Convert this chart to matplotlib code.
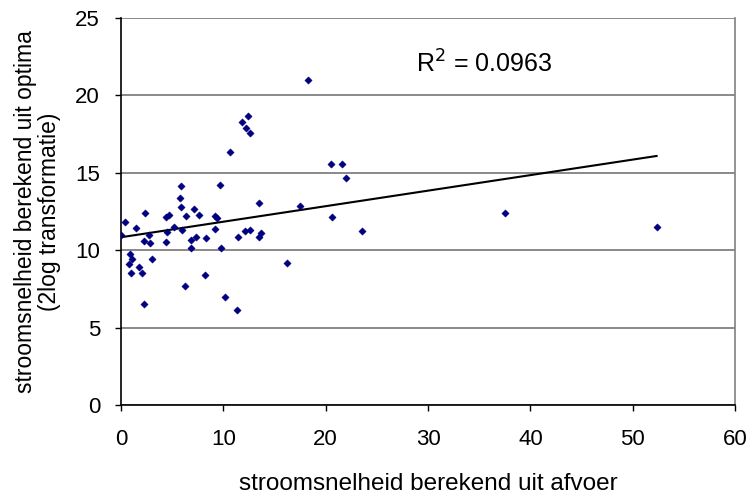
import numpy as np
import matplotlib
matplotlib.use("Agg")
import matplotlib.pyplot as plt

plt.rcParams['font.family'] = ['Liberation Sans', 'DejaVu Sans']

# stroomsnelheid berekend uit afvoer (x) vs. uit optima (y)
afvoer = [0.0, 0.39, 0.85, 0.79, 1.11, 0.95, 1.5, 1.76, 2.02, 2.38,
          2.25, 2.22, 2.77, 2.84, 3.06, 4.43, 4.66, 4.4, 4.53, 5.15,
          5.9, 5.77, 5.9, 5.97, 6.35, 6.29, 7.14, 6.81, 6.81, 7.62,
          7.36, 8.28, 8.18, 9.22, 9.38, 9.68, 9.22, 9.74, 10.17, 10.65,
          11.34, 11.4, 11.86, 12.45, 12.25, 12.64, 12.16, 12.58, 13.49, 13.49,
          13.65, 18.28, 20.56, 21.64, 21.99, 17.53, 20.66, 23.59, 16.19, 37.55,
          52.32]
optima = [11.01, 11.81, 9.76, 9.11, 9.44, 8.55, 11.42, 8.92, 8.55, 12.43,
          6.55, 10.6, 10.97, 10.45, 9.42, 12.13, 12.3, 10.56, 11.16, 11.5,
          14.16, 13.36, 12.76, 11.31, 12.2, 7.67, 12.65, 10.69, 10.11, 12.3,
          10.86, 10.8, 8.4, 12.2, 12.07, 14.2, 11.4, 10.13, 6.98, 16.33,
          6.16, 10.88, 18.31, 18.64, 17.88, 17.6, 11.27, 11.29, 13.08, 10.84,
          11.12, 20.99, 15.56, 15.58, 14.69, 12.84, 12.15, 11.27, 9.18, 12.39,
          11.49]
r2_label = "R$^2$ = 0.0963"

x = np.array(afvoer)
y = np.array(optima)
slope, icpt = np.polyfit(x, y, 1)
xl = np.array([x.min(), x.max()])

fig = plt.figure(figsize=(7.51, 5.0), dpi=100)
ax = fig.add_axes([0.161, 0.19, 0.818, 0.774])

ax.set_axisbelow(True)
ax.yaxis.grid(True, color='#808080', lw=1.3)
ax.plot(xl, icpt + slope * xl, color='black', lw=1.5, zorder=2)
ax.scatter(x, y, marker='D', s=14, color='#000080', edgecolors='#000080', lw=0.3, zorder=3)

ax.set_xlim(0, 60)
ax.set_ylim(0, 25)
ax.set_xticks(range(0, 61, 10))
ax.set_yticks(range(0, 26, 5))
ax.tick_params(labelsize=16, length=4, width=1, direction='out')
ax.tick_params(axis='x', pad=13)
ax.tick_params(axis='y', pad=11)

for s in ['left', 'bottom']:
    ax.spines[s].set_color('black')
    ax.spines[s].set_linewidth(1.2)
ax.spines['right'].set_color('#808080')
ax.spines['right'].set_linewidth(1.2)
ax.spines['top'].set_visible(False)

ax.set_xlabel("stroomsnelheid berekend uit afvoer", fontsize=17.5, labelpad=17)
ax.set_ylabel("stroomsnelheid berekend uit optima\n(2log transformatie)", fontsize=16.5, labelpad=10,
              linespacing=1.05)

ax.text(28.8, 22.0, r2_label, fontsize=18, va='center', ha='left')

fig.savefig("out.png", dpi=100)
